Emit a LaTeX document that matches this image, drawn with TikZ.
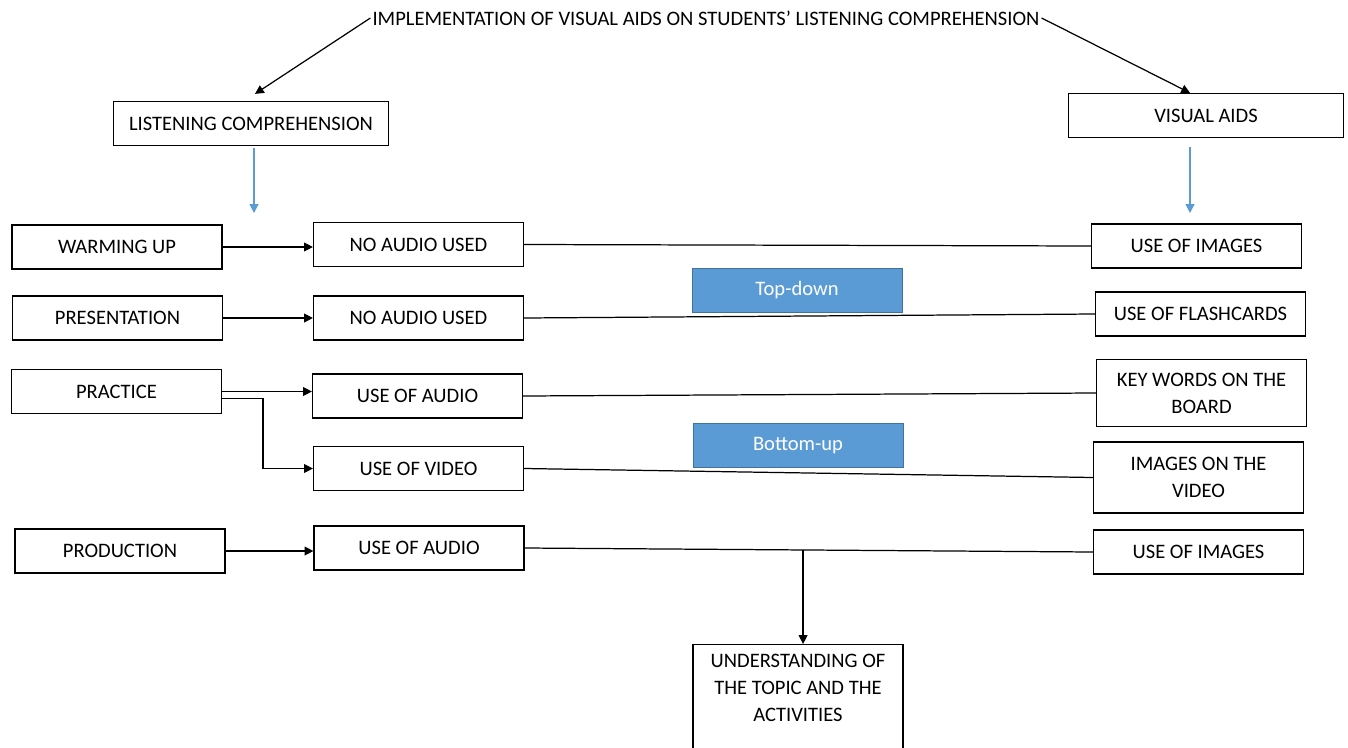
\documentclass[tikz,border=0pt]{standalone}
\usepackage{fontspec}
\setmainfont{Carlito}
\usepackage{xcolor}
\usepackage{tikz}
\usetikzlibrary{arrows.meta,calc}

\definecolor{aidblue}{HTML}{5B9BD5}
\definecolor{aidedge}{HTML}{41719C}

\tikzset{
	txt/.style={font=\fontsize{11.7}{15.3}\selectfont},
	box/.style={txt, draw, line width=0.7pt, minimum width=4.2cm, minimum height=0.88cm, align=center},
	widebox/.style={box, minimum width=5.5cm},
	tallbox/.style={box, minimum height=1.34cm},
	tag/.style={box, draw=aidedge, line width=0.4pt, fill=aidblue, text=white},
	link/.style={line width=0.7pt},
	arr/.style={link, -{Triangle[length=5pt,width=5pt]}},
	bluearr/.style={draw=aidblue, line width=0.7pt, -{Triangle[length=5pt,width=5pt]}}
}

\begin{document}
\begin{tikzpicture}[x=0.02cm, y=-0.02cm]
		\useasboundingbox (0,0) rectangle (1348,747);
		\clip (0,0) rectangle (1348,747);

		\node[txt, inner sep=1pt] (title) at (706,18) {IMPLEMENTATION OF VISUAL AIDS ON STUDENTS’ LISTENING COMPREHENSION};

		\node[widebox] (lc) at (251,123.5) {LISTENING COMPREHENSION};
		\node[widebox] (va) at (1206,115.5) {VISUAL AIDS};

		\node[box] (warm) at (117,247) {WARMING UP};
		\node[box] (pres) at (117.5,318) {PRESENTATION};
		\node[box] (prac) at (116.5,391.5) {PRACTICE};
		\node[box] (prod) at (120,551) {PRODUCTION};

		\node[box] (noaudioa) at (418.5,244.5) {NO AUDIO USED};
		\node[box] (noaudiob) at (418.5,318) {NO AUDIO USED};
		\node[box] (audioa) at (417.5,396) {USE OF AUDIO};
		\node[box] (video) at (418.5,468.5) {USE OF VIDEO};
		\node[box] (audiob) at (419,548) {USE OF AUDIO};

		\node[box] (imagesa) at (1196.5,246) {USE OF IMAGES};
		\node[box] (flash) at (1200.5,314) {USE OF FLASHCARDS};
		\node[tallbox] (keys) at (1201.5,393) {KEY WORDS ON THE\\BOARD};
		\node[tallbox, minimum height=1.42cm] (vidimages) at (1198.5,477.5) {IMAGES ON THE\\VIDEO};
		\node[box] (imagesb) at (1198.5,552) {USE OF IMAGES};

		\node[tag] (topdown) at (797,290) {Top-down};
		\node[tag] (bottomup) at (798,445.5) {Bottom-up};

		\node[box, anchor=north, minimum height=2.4cm] (under) at (798,644) {};
		\node[txt, align=center, anchor=north] (undertxt) at ($(under.north)+(0,4)$) {UNDERSTANDING OF\\THE TOPIC AND THE\\ACTIVITIES};

		\draw[arr] (title.west) -- ($(lc.north)+(4,-7)$);
		\draw[arr] (title.east) -- ($(va.north)+(-16,0)$);

		\coordinate (lcend) at (254,213);
		\coordinate (vaend) at (1190,213);
		\draw[bluearr] ($(lc.south)+(3,2)$) -- (lcend);
		\draw[bluearr] ($(va.south)+(-16,9)$) -- (vaend);

		\draw[arr] (warm.east) -- (warm.east -| noaudioa.west);
		\draw[arr] (pres.east) -- (pres.east -| noaudiob.west);
		\draw[arr] (prac.east) -- (prac.east -| audioa.west);
		\draw[arr] ($(prac.east)+(0,7)$) -| ($(video.west)-(50,0)$) -- (video.west);
		\draw[arr] (prod.east) -- (prod.east -| audiob.west);

		\draw[link] (noaudioa.east) -- (imagesa.west);
		\draw[link] (noaudiob.east) -- (flash.west);
		\draw[link] (audioa.east) -- (keys.west);
		\draw[link] (video.east) -- (vidimages.west);
		\draw[link] (audiob.east) -- (imagesb.west);

		\coordinate (mix) at ($(audiob.east)!0.49!(imagesb.west)$);
		\draw[arr] (mix) -- (mix |- under.north);
	\end{tikzpicture}
\end{document}
